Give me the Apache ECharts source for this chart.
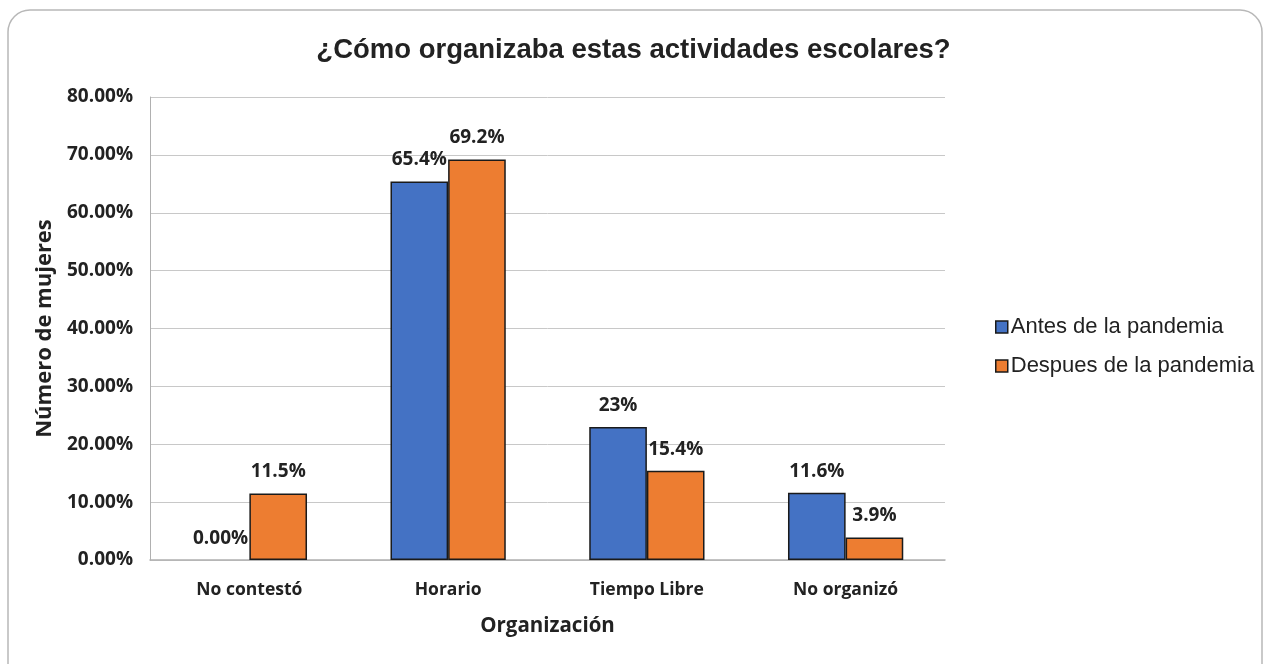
<!DOCTYPE html>
<html>
<head>
<meta charset="utf-8">
<script src="https://cdn.jsdelivr.net/npm/echarts@6/dist/echarts.min.js"></script>
<style>
  html, body { margin: 0; padding: 0; background: #ffffff; }
  #chart { width: 1267px; height: 664px; }
</style>
</head>
<body>
<div id="chart"></div>
<script>
// Categories and values (percent of women)
const categories = ['No contestó', 'Horario', 'Tiempo Libre', 'No organizó'];
const antesValues = [0, 65.4, 23, 11.6];
const despuesValues = [11.5, 69.2, 15.4, 3.9];
const antesLabels = ['0.00%', '65.4%', '23%', '11.6%'];
const despuesLabels = ['11.5%', '69.2%', '15.4%', '3.9%'];
const seriesNames = ['Antes de la pandemia', 'Despues de la pandemia'];

const labelFont = '"Open Sans", Lato, sans-serif';
const arialFont = '"Liberation Sans", Arial, sans-serif';
const chart = echarts.init(document.getElementById('chart'), null, { renderer: 'canvas' });

function barSeries(name, values, labels, color) {
  return {
    name: name,
    type: 'bar',
    // zero-height bars get no outline so they stay invisible
    data: values.map(v => v === 0 ? { value: v, itemStyle: { borderWidth: 0 } } : v),
    barGap: '0%',
    barCategoryGap: '42%',
    itemStyle: { color: color, borderColor: '#1a1a1a', borderWidth: 1.5 },
    label: {
      show: true,
      position: 'top',
      distance: 12,
      formatter: p => labels[p.dataIndex],
      fontFamily: labelFont,
      fontWeight: 'bold',
      fontSize: 19,
      color: '#222'
    }
  };
}

chart.setOption({
  animation: false,
  backgroundColor: '#ffffff',
  title: {
    text: '¿Cómo organizaba estas actividades escolares?',
    left: 'center',
    top: 31,
    textStyle: { fontFamily: arialFont, fontWeight: 'bold', fontSize: 27.5, color: '#222' }
  },
  legend: {
    orient: 'vertical',
    left: 990,
    top: 311,
    itemGap: 17,
    itemWidth: 12,
    itemHeight: 12,
    icon: 'rect',
    itemStyle: { borderColor: '#1a1a1a', borderWidth: 1.5 },
    textStyle: { fontFamily: arialFont, fontSize: 22, color: '#222', padding: [0, 0, 0, -2] },
    data: seriesNames
  },
  grid: { left: 150, right: 322, top: 97, bottom: 104, containLabel: false },
  xAxis: {
    type: 'category',
    data: categories,
    name: 'Organización',
    nameLocation: 'middle',
    nameGap: 56,
    nameTextStyle: { fontFamily: labelFont, fontWeight: 'bold', fontSize: 20.5, color: '#222' },
    axisLine: { lineStyle: { color: '#b0b0b0', width: 1.5 } },
    axisTick: { show: false },
    axisLabel: { fontFamily: labelFont, fontWeight: 'bold', fontSize: 17.5, color: '#222', margin: 21 }
  },
  yAxis: {
    type: 'value',
    min: 0,
    max: 80,
    interval: 10,
    name: 'Número de mujeres',
    nameLocation: 'middle',
    nameRotate: 90,
    nameGap: 91,
    nameTextStyle: { fontFamily: labelFont, fontWeight: 'bold', fontSize: 22, color: '#222' },
    axisLine: { show: true, lineStyle: { color: '#b0b0b0', width: 1 } },
    axisTick: { show: false },
    axisLabel: {
      fontFamily: labelFont, fontWeight: 'bold', fontSize: 19, color: '#222', margin: 17,
      formatter: v => v.toFixed(2) + '%'
    },
    splitLine: { lineStyle: { color: '#c8c8c8', width: 1 } }
  },
  graphic: [{
    type: 'rect',
    shape: { x: 8, y: 10, width: 1254, height: 680, r: 22 },
    style: { fill: 'none', stroke: '#b8b8b8', lineWidth: 1.5 },
    silent: true,
    z: -1
  }],
  series: [
    barSeries(seriesNames[0], antesValues, antesLabels, '#4472c4'),
    barSeries(seriesNames[1], despuesValues, despuesLabels, '#ed7d31')
  ]
});
</script>
</body>
</html>
